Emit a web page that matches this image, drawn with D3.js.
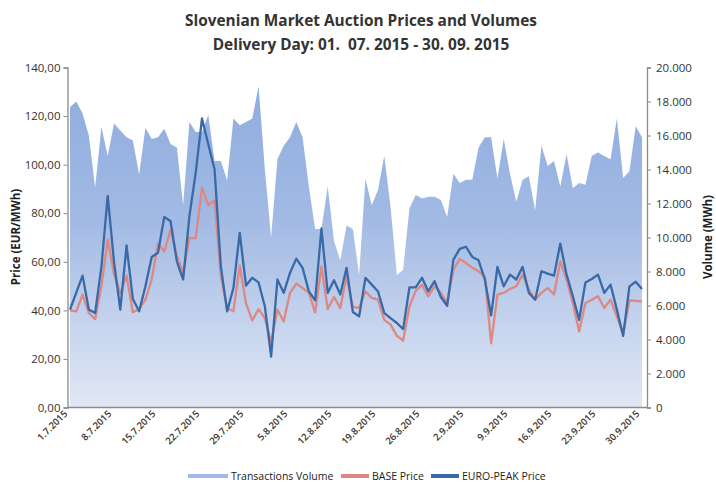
<!DOCTYPE html>
<html lang="en">
<head>
<meta charset="utf-8">
<title>Slovenian Market Auction Prices and Volumes</title>
<script src="https://d3js.org/d3.v7.min.js"></script>
<style>
    body { margin: 0; background: #fff; }
    svg { display: block; font-family: "Open Sans", "Liberation Sans", sans-serif; }
    .tick text { fill: #333; }
    .title { white-space: pre; }
</style>
</head>
<body>
<script>
    // delivery days 1.7.2015 - 30.9.2015 (categories)
    var days = d3.timeDays(new Date(2015, 6, 1), new Date(2015, 9, 1));
    var dateLabels = ["1.7.2015", "8.7.2015", "15.7.2015", "22.7.2015", "29.7.2015", "5.8.2015", "12.8.2015",
        "19.8.2015", "26.8.2015", "2.9.2015", "9.9.2015", "16.9.2015", "23.9.2015", "30.9.2015"];

    // transactions volume, MWh
    var volume = [17660, 18000, 17300, 16000, 12960, 16500, 14800, 16700, 16300, 15900,
        15700, 13700, 16450, 15800, 15900, 16400, 15500, 15300, 11900, 16800,
        16200, 16200, 17200, 14500, 14500, 13350, 17000, 16600, 16800, 17000,
        18900, 14000, 10000, 14600, 15400, 15900, 16800, 15900, 13000, 10500,
        10500, 13000, 9800, 8650, 10700, 10500, 7800, 13450, 11900, 12800,
        14800, 11800, 7800, 8100, 11700, 12500, 12300, 12400, 12400, 12200,
        11200, 13750, 13200, 13400, 13400, 15300, 15900, 15900, 13450, 15800,
        13750, 12100, 13400, 13600, 11600, 15400, 14200, 14500, 13000, 14900,
        12900, 13200, 13100, 14800, 15000, 14800, 14600, 17000, 13500, 13900,
        16550, 15900];

    // BASE price, EUR/MWh
    var basePrice = [40.0, 39.6, 46.5, 38.9, 36.4, 50.0, 69.2, 55.0, 47.0, 54.3,
        39.2, 40.5, 44.4, 52.7, 67.5, 64.3, 73.3, 62.3, 55.5, 69.9,
        69.6, 90.5, 83.3, 85.4, 54.0, 41.0, 39.6, 58.4, 43.0, 35.8,
        40.5, 36.8, 26.8, 40.3, 35.4, 47.2, 51.0, 49.2, 47.2, 39.2,
        58.1, 40.5, 45.5, 41.0, 54.0, 41.4, 41.0, 47.8, 45.1, 44.4,
        36.1, 34.1, 29.5, 27.6, 41.6, 48.0, 50.5, 45.8, 49.9, 47.2,
        43.0, 56.8, 61.2, 59.5, 57.5, 56.1, 54.0, 26.4, 46.5, 47.2,
        48.8, 49.9, 54.7, 48.5, 44.4, 47.2, 49.2, 46.5, 60.2, 52.7,
        43.0, 31.3, 43.0, 44.4, 45.8, 41.0, 44.4, 37.5, 30.4, 44.1,
        43.9, 43.7];

    // EURO-PEAK price, EUR/MWh
    var peakPrice = [40.3, 47.3, 54.3, 40.3, 38.9, 58.0, 87.1, 60.0, 40.3, 66.7,
        44.7, 39.6, 49.9, 62.0, 63.7, 78.5, 76.7, 60.2, 52.7, 78.8,
        96.7, 119.0, 108.4, 98.0, 58.1, 39.6, 49.2, 71.9, 50.2, 53.4,
        51.5, 41.6, 21.0, 52.7, 47.2, 55.4, 61.3, 57.5, 47.8, 44.1,
        73.7, 47.2, 52.4, 46.5, 57.5, 39.3, 37.5, 53.4, 50.6, 47.8,
        38.9, 36.8, 34.8, 32.3, 49.5, 49.5, 53.4, 47.8, 52.0, 45.5,
        41.9, 60.9, 65.3, 66.2, 62.0, 60.6, 52.7, 37.9, 57.9, 49.9,
        54.7, 52.7, 57.9, 47.2, 44.4, 56.1, 55.1, 54.3, 67.5, 54.7,
        45.8, 36.1, 51.5, 52.9, 54.7, 47.2, 50.6, 40.3, 29.5, 49.9,
        51.8, 48.8];

    var priceTicks = [0, 20, 40, 60, 80, 100, 120, 140];
    var volumeTicks = [0, 2000, 4000, 6000, 8000, 10000, 12000, 14000, 16000, 18000, 20000];

    var width = 716, height = 483;
    var plot = { left: 67.5, right: 647, top: 67.5, bottom: 407.5 };

    var loc = d3.formatLocale({ decimal: ",", thousands: ".", grouping: [3], currency: ["", ""] });
    var fmtPrice = loc.format(",.2f");
    var fmtVol = loc.format(",.0f");

    var svg = d3.select("body").append("svg")
        .attr("width", width)
        .attr("height", height);

    var x = d3.scalePoint()
        .domain(d3.range(days.length))
        .range([70, 642]);
    var yPrice = d3.scaleLinear().domain([0, 140]).range([plot.bottom, plot.top]);
    var yVol = d3.scaleLinear().domain([0, 20000]).range([plot.bottom, plot.top]);

    // gradient for the volume area
    var grad = svg.append("defs").append("linearGradient")
        .attr("id", "volGrad")
        .attr("gradientUnits", "userSpaceOnUse")
        .attr("x1", 0).attr("y1", plot.top)
        .attr("x2", 0).attr("y2", plot.bottom);
    grad.append("stop").attr("offset", "0%").attr("stop-color", "#8dabdf");
    grad.append("stop").attr("offset", "45%").attr("stop-color", "#a2bae4");
    grad.append("stop").attr("offset", "100%").attr("stop-color", "#e2e8f5");

    var area = d3.area()
        .x(function (d, i) { return x(i); })
        .y0(plot.bottom)
        .y1(function (d) { return yVol(d); });

    svg.append("path")
        .datum(volume)
        .attr("d", area)
        .attr("fill", "url(#volGrad)");

    var priceLine = d3.line()
        .x(function (d, i) { return x(i); })
        .y(function (d) { return yPrice(d); });

    svg.append("path")
        .datum(basePrice)
        .attr("d", priceLine)
        .attr("fill", "none")
        .attr("stroke", "#dc8983")
        .attr("stroke-width", 2.3)
        .attr("stroke-linejoin", "round");

    svg.append("path")
        .datum(peakPrice)
        .attr("d", priceLine)
        .attr("fill", "none")
        .attr("stroke", "#3a69a7")
        .attr("stroke-width", 2.3)
        .attr("stroke-linejoin", "round");

    // axes
    var left = svg.append("g")
        .attr("transform", "translate(" + plot.left + ",0)")
        .call(d3.axisLeft(yPrice).tickValues(priceTicks).tickFormat(fmtPrice).tickSize(4).tickPadding(3));
    var right = svg.append("g")
        .attr("transform", "translate(" + plot.right + ",0)")
        .call(d3.axisRight(yVol).tickValues(volumeTicks).tickFormat(fmtVol).tickSize(4).tickPadding(5));
    [left, right].forEach(function (g) {
        g.select(".domain").attr("stroke", "#8a8a8a").attr("stroke-width", 1.3);
        g.selectAll(".tick line").attr("stroke", "#8a8a8a");
        g.selectAll(".tick text").attr("font-size", 11.5).attr("font-family", "Open Sans, sans-serif");
    });

    svg.append("line")
        .attr("x1", plot.left).attr("x2", plot.right)
        .attr("y1", plot.bottom).attr("y2", plot.bottom)
        .attr("stroke", "#8a8a8a").attr("stroke-width", 1.3);

    // date labels, one per week
    svg.append("g").selectAll("text")
        .data(dateLabels)
        .join("text")
        .attr("transform", function (d, i) {
            return "translate(" + (x(i * 7) - 2) + "," + (plot.bottom + 7) + ") rotate(-45)";
        })
        .attr("text-anchor", "end")
        .attr("font-size", 9.5)
        .attr("font-weight", 600)
        .attr("fill", "#333")
        .text(function (d) { return d; });

    // titles
    svg.append("text")
        .attr("class", "title")
        .attr("x", 361).attr("y", 26)
        .attr("text-anchor", "middle")
        .attr("font-size", 15.4).attr("font-weight", "bold").attr("fill", "#333")
        .text("Slovenian Market Auction Prices and Volumes");
    svg.append("text")
        .attr("class", "title")
        .attr("x", 361).attr("y", 50)
        .attr("text-anchor", "middle")
        .attr("font-size", 15.4).attr("font-weight", "bold").attr("fill", "#333")
        .text("Delivery Day: 01.  07. 2015 - 30. 09. 2015");

    svg.append("text")
        .attr("transform", "translate(20,237) rotate(-90)")
        .attr("text-anchor", "middle")
        .attr("font-size", 11.5).attr("font-weight", "bold").attr("fill", "#222")
        .text("Price (EUR/MWh)");
    svg.append("text")
        .attr("transform", "translate(712,237) rotate(-90)")
        .attr("text-anchor", "middle")
        .attr("font-size", 11.5).attr("font-weight", "bold").attr("fill", "#222")
        .text("Volume (MWh)");

    // legend
    var legendItems = [
        { name: "Transactions Volume", color: "#a3bbe4", x: 188, w: 40 },
        { name: "BASE Price", color: "#dc8983", x: 341, w: 28 },
        { name: "EURO-PEAK Price", color: "#3a69a7", x: 431, w: 28 }
    ];
    var lg = svg.append("g").selectAll("g")
        .data(legendItems)
        .join("g")
        .attr("transform", function (d) { return "translate(" + d.x + ",476)"; });
    lg.append("line")
        .attr("x1", 0).attr("x2", function (d) { return d.w; })
        .attr("stroke", function (d) { return d.color; })
        .attr("stroke-width", 4);
    lg.append("text")
        .attr("x", function (d) { return d.w + 3; }).attr("y", 3.5)
        .attr("font-size", 10.5).attr("fill", "#222")
        .text(function (d) { return d.name; });
</script>
</body>
</html>
